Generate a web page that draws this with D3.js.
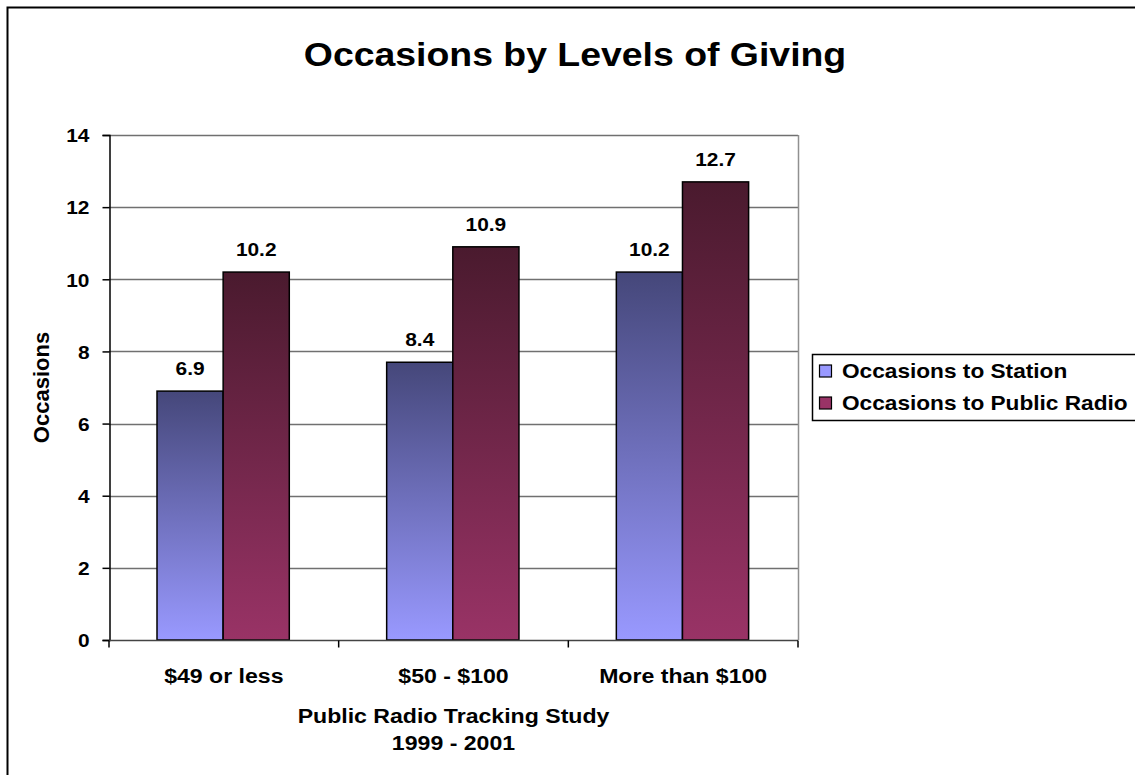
<!DOCTYPE html>
<html>
<head>
<meta charset="utf-8">
<script src="https://cdn.jsdelivr.net/npm/d3@7"></script>
<style>
  html, body { margin: 0; padding: 0; background: #fff; }
  svg { display: block; }
  text { font-family: "Liberation Sans", Arial, sans-serif; font-weight: bold; fill: #000; }
</style>
</head>
<body>
<svg id="chart" width="1135" height="775"></svg>
<script>
const categories = ["$49 or less", "$50 - $100", "More than $100"];
const seriesNames = ["Occasions to Station", "Occasions to Public Radio"];
// bar heights as drawn in the picture
const stationValues = [6.9, 7.7, 10.2];
const publicRadioValues = [10.2, 10.9, 12.7];
// data labels as printed in the picture
const stationLabels = ["6.9", "8.4", "10.2"];
const publicRadioLabels = ["10.2", "10.9", "12.7"];
const yTicks = [0, 2, 4, 6, 8, 10, 12, 14];
const titleText = "Occasions by Levels of Giving";
const xTitleLines = ["Public Radio Tracking Study", "1999 - 2001"];
const yTitleText = "Occasions";

const svg = d3.select("#chart");
const SX = 1.1;

const M = { left: 109, right: 798, top: 135, bottom: 640 };

svg.append("rect").attr("x", 7.5).attr("y", 7.5).attr("width", 1140).attr("height", 780)
  .attr("fill", "#fff").attr("stroke", "#000").attr("stroke-width", 2);

const y = d3.scaleLinear().domain([0, 14]).range([M.bottom, M.top]);
const x0 = d3.scaleBand().domain(categories).range([M.left, M.right]).padding(0);
const x1 = d3.scaleBand().domain(seriesNames)
  .range([x0.bandwidth() * 0.209, x0.bandwidth() * 0.785]).padding(0);

const defs = svg.append("defs");
const grads = [
  { id: "gStation", top: "#45477a", bottom: "#9999ff" },
  { id: "gRadio", top: "#4a1a2e", bottom: "#993366" }
];
grads.forEach(g => {
  const lg = defs.append("linearGradient").attr("id", g.id)
    .attr("x1", 0).attr("y1", 0).attr("x2", 0).attr("y2", 1);
  lg.append("stop").attr("offset", "0%").attr("stop-color", g.top);
  lg.append("stop").attr("offset", "100%").attr("stop-color", g.bottom);
});

svg.append("g").selectAll("line").data(yTicks.filter(d => d > 0)).join("line")
  .attr("x1", M.left).attr("x2", M.right)
  .attr("y1", d => Math.round(y(d)) + 0.5).attr("y2", d => Math.round(y(d)) + 0.5)
  .attr("stroke", "#707070").attr("stroke-width", 1.5);
svg.append("line").attr("x1", M.right + 0.5).attr("x2", M.right + 0.5)
  .attr("y1", M.top).attr("y2", M.bottom).attr("stroke", "#909090").attr("stroke-width", 1.5);

const data = categories.map((c, i) => ({
  cat: c,
  vals: [stationValues[i], publicRadioValues[i]],
  labels: [stationLabels[i], publicRadioLabels[i]]
}));
const gBars = svg.append("g");
data.forEach(d => {
  d.vals.forEach((v, j) => {
    const bx = x0(d.cat) + x1(seriesNames[j]);
    gBars.append("rect")
      .attr("x", bx).attr("y", y(v))
      .attr("width", x1.bandwidth()).attr("height", y(0) - y(v))
      .attr("fill", j === 0 ? "url(#gStation)" : "url(#gRadio)")
      .attr("stroke", "#000").attr("stroke-width", 1.5);
    svg.append("text")
      .attr("transform", `translate(${bx + x1.bandwidth() / 2},${y(v) - 16}) scale(${SX},1)`)
      .attr("text-anchor", "middle").style("font-size", "19px")
      .text(d.labels[j]);
  });
});

const yAxis = d3.axisLeft(y).tickValues(yTicks).tickSize(7).tickPadding(13);
const gy = svg.append("g").attr("transform", `translate(${M.left + 0.5},0)`).call(yAxis);
gy.select(".domain").attr("stroke", "#000").attr("stroke-width", 1.5);
gy.selectAll(".tick line").attr("stroke", "#000").attr("stroke-width", 1.5);
gy.selectAll(".tick text").attr("font-family", null).style("font-size", "19px")
  .attr("transform", `scale(${SX},1)`)
  .attr("x", -20 / SX).attr("dy", "0.36em");

const gx = svg.append("g").attr("transform", `translate(0,${M.bottom + 0.5})`);
gx.append("line").attr("x1", M.left).attr("x2", M.right).attr("stroke", "#444").attr("stroke-width", 1.5);
const boundaries = categories.map(c => x0(c)).concat([M.right]);
gx.selectAll("line.tk").data(boundaries).join("line").attr("class", "tk")
  .attr("x1", d => d).attr("x2", d => d).attr("y1", 0).attr("y2", 7)
  .attr("stroke", "#000").attr("stroke-width", 1.5);
gx.selectAll("text").data(categories).join("text")
  .attr("transform", d => `translate(${x0(d) + x0.bandwidth() / 2},${682 - M.bottom}) scale(${SX},1)`)
  .attr("text-anchor", "middle").style("font-size", "21px").text(d => d);

svg.append("text")
  .attr("transform", `translate(575,66) scale(${SX},1)`)
  .attr("text-anchor", "middle").style("font-size", "34px").text(titleText);

xTitleLines.forEach((t, i) => {
  svg.append("text")
    .attr("transform", `translate(${(M.left + M.right) / 2},${723 + i * 27}) scale(${SX},1)`)
    .attr("text-anchor", "middle").style("font-size", "21px").text(t);
});

svg.append("text")
  .attr("transform", `translate(49,${(M.top + M.bottom) / 2}) rotate(-90)`)
  .attr("text-anchor", "middle").style("font-size", "22px").text(yTitleText);

const lg = svg.append("g");
lg.append("rect").attr("x", 812.5).attr("y", 354.5).attr("width", 340).attr("height", 66)
  .attr("fill", "#fff").attr("stroke", "#000").attr("stroke-width", 1.5);
seriesNames.forEach((s, i) => {
  const cy = 371 + i * 32;
  lg.append("rect").attr("x", 819.5).attr("y", cy - 6).attr("width", 12).attr("height", 12)
    .attr("fill", i === 0 ? "#9999ff" : "#993366").attr("stroke", "#000").attr("stroke-width", 1.2);
  lg.append("text")
    .attr("transform", `translate(842,${cy + 7}) scale(${SX * 1.03},1)`)
    .style("font-size", "20px").text(s);
});
</script>
</body>
</html>
